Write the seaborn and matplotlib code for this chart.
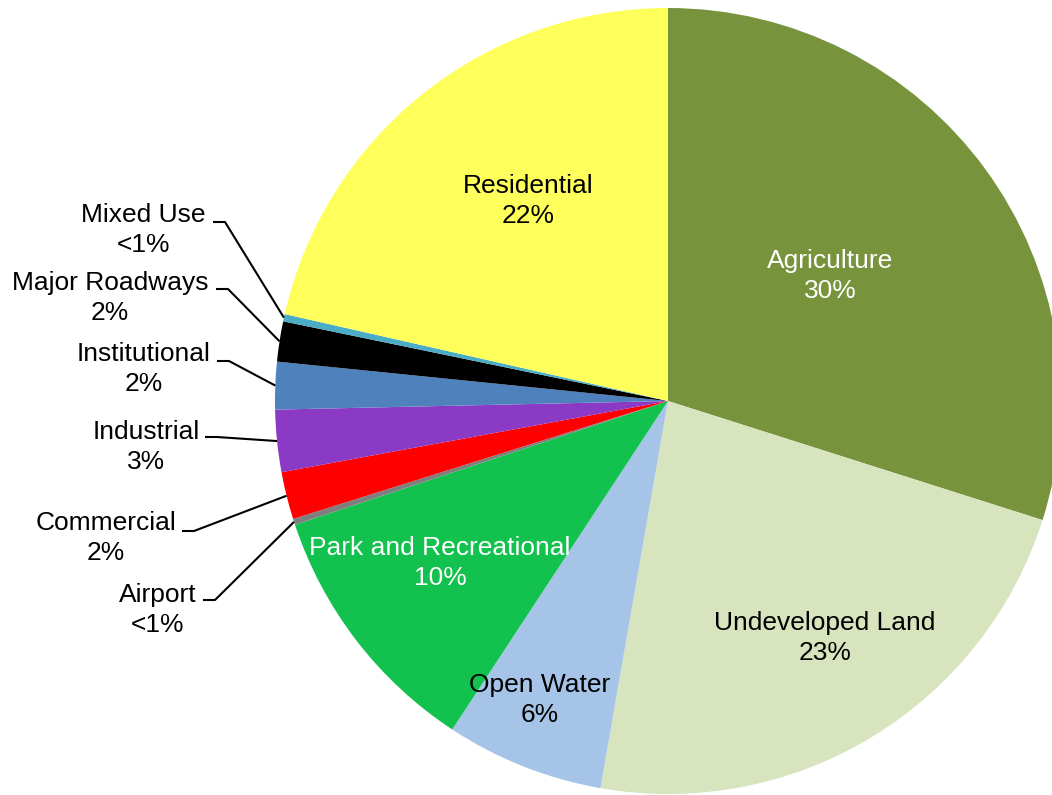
import matplotlib
matplotlib.use("Agg")
import matplotlib.pyplot as plt
import seaborn as sns
import numpy as np

# ---- data ----
categories = ["Agriculture", "Undeveloped Land", "Open Water", "Park and Recreational",
              "Airport", "Commercial", "Industrial", "Institutional",
              "Major Roadways", "Mixed Use", "Residential"]
shares = [29.9, 22.85, 6.5, 10.65, 0.25, 1.95, 2.55, 1.95, 1.65, 0.3, 21.45]
pct_labels = ["30%", "23%", "6%", "10%", "<1%", "2%", "3%", "2%", "2%", "<1%", "22%"]

# ---- style ----
colors = ["#77933C", "#D7E4BD", "#A6C4E8", "#13C24E", "#7F7F7F", "#FF0000",
          "#8B3AC5", "#4F81BD", "#000000", "#4BACC6", "#FFFF5B"]
text_colors = ["white", "black", "black", "white", "black", "black", "black",
               "black", "black", "black", "black"]
# label block centres in pixels (x from left, y from top)
label_px = [(830, 276), (825, 638), (540, 700), (440, 563), (158, 610), (106, 538),
            (146, 447), (144, 369), (110, 298), (143, 230), (528, 201)]
# leader line starting points (pixels); None = inside label
leader_px = [None, None, None, None, (203, 600), (182, 531), (205, 437),
             (217, 361), (216, 289), (213, 222), None]

W, H = 1052, 795
CX, CY, R = 668, 401, 393


def to_data(px, py):
    return (px - CX) / R, (CY - py) / R


sns.set_theme(style="white")
plt.rcParams["font.family"] = ["Liberation Sans", "DejaVu Sans"]

fig = plt.figure(figsize=(W / 100, H / 100), dpi=100)
ax = fig.add_axes([0, 0, 1, 1])

wedges, _ = ax.pie(shares, colors=sns.color_palette(colors), startangle=90,
                   counterclock=False, radius=1.0, center=(0, 0),
                   wedgeprops=dict(linewidth=0))
ax.set_aspect("auto")
ax.set_xlim(-CX / R, (W - CX) / R)
ax.set_ylim(-(H - CY) / R, CY / R)
ax.axis("off")

for i, w in enumerate(wedges):
    tx, ty = to_data(*label_px[i])
    ax.text(tx, ty, f"{categories[i]}\n{pct_labels[i]}", ha="center", va="center",
            multialignment="center", fontsize=19, color=text_colors[i], linespacing=1.3)
    if leader_px[i] is not None:
        mid = np.deg2rad((w.theta1 + w.theta2) / 2)
        ex, ey = np.cos(mid), np.sin(mid)
        sx, sy = to_data(*leader_px[i])
        hx, _ = to_data(leader_px[i][0] + 12, leader_px[i][1])
        ax.plot([sx, hx, ex], [sy, sy, ey], color="black", lw=1.5,
                solid_capstyle="butt", zorder=1)

fig.savefig("out.png", dpi=100)
